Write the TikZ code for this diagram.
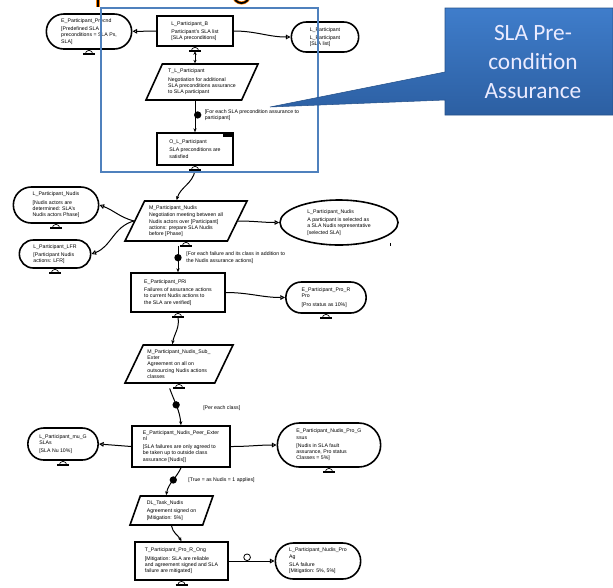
\documentclass[tikz,border=0pt]{standalone}
\usepackage{fontspec}
\setmainfont{Liberation Sans}
\newfontfamily\calloutfont{Carlito}
\usetikzlibrary{positioning,arrows.meta,shapes.geometric,shapes.misc}

\definecolor{frameblue}{HTML}{4F81BD}
\definecolor{calltop}{HTML}{3F7DCB}
\definecolor{callbot}{HTML}{2C5FA2}

\begin{document}
\begin{tikzpicture}[
    x=0.75pt, y=-0.75pt,
    font=\fontsize{3.9}{4.7}\selectfont,
    sz/.style 2 args={minimum width=#1*0.75pt, minimum height=#2*0.75pt},
    base/.style={draw, line width=1.2pt, fill=white, align=left, inner sep=1pt},
    actbox/.style={base, rectangle},
    endbox/.style={base, rounded rectangle},
    taskbox/.style={base, trapezium, trapezium left angle=60,
                    trapezium right angle=120, trapezium stretches body},
    goalbox/.style={base, ellipse, inner sep=0pt},
    link/.style={line width=0.75pt, -{Triangle[open, length=3.5pt, width=3.5pt]}},
    flow/.style={line width=0.75pt, -{Stealth[length=3pt, width=2.5pt]}},
    gate/.style={circle, fill=black, inner sep=0pt, minimum size=5.5pt},
    ring/.style={circle, draw, line width=0.6pt, fill=white, inner sep=0pt, minimum size=5pt},
    cond/.style={align=left, inner sep=0pt},
    pics/dock/.style={code={
        \draw[line width=0.5pt, fill=white] (-2.8pt,-3.2pt) arc[start angle=180, end angle=0, radius=2.8pt] -- cycle;
        \draw[line width=0.9pt] (-4.5pt,-3.2pt) -- (4.5pt,-3.2pt);
    }}
]
\useasboundingbox (0,0) rectangle (613,587);

% title strokes cut off at the top edge
\draw[orange, line width=2.6pt] (98,-4) -- (98,7);
\draw[line width=1.6pt] (98,-4) -- (98,7);
\draw[orange, line width=2.4pt] (241.5,-5) ellipse [x radius=6pt, y radius=6pt];
\draw[line width=1.4pt] (241.5,-5) ellipse [x radius=6pt, y radius=6pt];

% precondition block
\node[endbox, sz={88}{35}] (precnd) at (89,31.5)
    {E\_Participant\_Precnd\\[1.5pt] {[}Predefined SLA\\ preconditions = SLA Ps,\\ SLA{]}};
\node[actbox, sz={76}{30}] (partB) at (195,31)
    {L\_Participant\_B\\[1.5pt] Participant's SLA list\\ {[}SLA preconditions{]}};
\node[endbox, sz={70}{30}] (partL) at (325,37)
    {L\_Participant\\[1.5pt] L\_Participant\\ {[}SLA list{]}};
\node[taskbox, sz={112}{36}] (negot) at (202,82)
    {T\_L\_Participant\\[1.5pt] Negotiation for additional\\ SLA preconditions assurance\\ to SLA participant};
\node[actbox, sz={76}{32}] (satisf) at (195,149)
    {O\_L\_Participant\\[1.5pt] SLA preconditions are\\ satisfied};

% Nudis block
\node[taskbox, sz={122}{40}] (nudis) at (186,221)
    {M\_Participant\_Nudis\\[1pt] Negotiation meeting between all\\ Nudis actors over {[}Participant{]}\\ actions: prepare SLA Nudis\\ before {[}Phase{]}};
\node[endbox, sz={88}{36}] (actors) at (56,205)
    {L\_Participant\_Nudis\\[1.5pt] {[}Nudis actors are\\ determined: SLA's\\ Nudis actors Phase{]}};
\node[endbox, sz={74}{28}] (lfr) at (55,254)
    {L\_Participant\_LFR\\[1.5pt] {[}Participant Nudis\\ actions: LFR{]}};
\node[goalbox, sz={118}{45}] (repres) at (339,222.5)
    {L\_Participant\_Nudis\\[1.5pt] A participant is selected as\\ a SLA Nudis representative\\ {[}selected SLA{]}};
\node[actbox, sz={94}{39}] (failver) at (178,292.5)
    {E\_Participant\_PRi\\[1.5pt] Failures of assurance actions\\ to current Nudis actions to\\ the SLA are verified{]}};
\node[endbox, sz={83}{31}] (prostat) at (326,297.5)
    {E\_Participant\_Pro\_R\\ Pro\\[1.5pt] {[}Pro status as 10\%{]}};

% outsourcing block
\node[taskbox, sz={108}{38}] (outsrc) at (179,364)
    {M\_Participant\_Nudis\_Sub\_\\ Exter\\ Agreement on all on\\ outsourcing Nudis actions\\ classes};
\node[actbox, sz={98}{41}] (peer) at (181,446.5)
    {E\_Participant\_Nudis\_Peer\_Exter\\ nl\\[1pt] {[}SLA failures are only agreed to\\ be taken up to outside class\\ assurance {[}Nudis{]}{]}};
\node[endbox, sz={73}{32}] (mu) at (63,444)
    {L\_Participant\_mu\_G\\ SLAs\\[1.5pt] {[}SLA Nu 10\%{]}};
\node[endbox, sz={106}{44}] (nudpro) at (329,445)
    {E\_Participant\_Nudis\_Pro\_G\\ ssus\\[1.5pt] {[}Nudis in SLA fault\\ assurance, Pro status\\ Classes = 5\%{]}};
\node[taskbox, trapezium left angle=65, trapezium right angle=115, sz={83}{29}] (signed) at (171.5,510.5)
    {DL\_Task\_Nudis\\[1.5pt] Agreement signed on\\ {[}Mitigation: 5\%{]}};
\node[actbox, sz={93}{38}] (ong) at (181.5,561)
    {T\_Participant\_Pro\_R\_Ong\\[1.5pt] {[}Mitigation: SLA are reliable\\ and agreement signed and SLA\\ failure are mitigated{]}};
\node[endbox, sz={88}{36}] (mitig) at (318,561)
    {L\_Participant\_Nudis\_Pro\\ Ag\\[1.5pt] SLA failure\\ {[}Mitigation: 5\%, 5\%{]}};

% docking marks under the nodes
\foreach \n in {precnd, partB, satisf, nudis, actors, lfr, failver, prostat, outsrc, mu, nudpro, ong}
    \pic at (\n.south) {dock};
\fill ([xshift=-8pt,yshift=-1.2pt]satisf.north east) rectangle ([xshift=-1.2pt,yshift=-3.5pt]satisf.north east);
\draw[line width=0.6pt] ([xshift=7pt,yshift=-3pt]repres.south east) -- ++(0,-2.5pt);

% links
\draw[link] (partB) -- (precnd);
\draw[link] (partB.east) to[out=0, in=180] (partL.west);
\draw[{Stealth[length=2.5pt, width=2.5pt]}-{Stealth[length=2.5pt, width=2.5pt]}, line width=0.75pt]
    ([yshift=-3.5pt]partB.south) -- (partB.south |- negot.north);
\draw[flow] (satisf.north |- negot.south) -- node[gate, pos=.45, xshift=2pt] (g1) {} (satisf.north);
\node[cond, anchor=west, right=2pt of g1] (c1) {{[}For each SLA precondition assurance to\\ participant{]}};

\draw[flow] ([yshift=-3.5pt]satisf.south) to[out=-100, in=75] ([xshift=-7pt]nudis.north);
\draw[link] (nudis.west) to[out=165, in=-20] (actors.east);
\draw[link] (nudis.west) to[out=195, in=20] (lfr.east);
\draw[link] (nudis.east) to[out=0, in=180] (repres.west);
\draw[flow] ([yshift=-3pt]failver.north |- nudis.south) -- node[gate, pos=.45] (g2) {} (failver.north);
\node[cond, anchor=west, right=3pt of g2] (c2) {{[}For each failure and its class in addition to\\ the Nudis assurance actions{]}};

\draw[link] (failver.east) to[out=0, in=180] (prostat.west);
\draw[flow] ([yshift=-3.5pt]failver.south) to[out=-80, in=80] ([xshift=-5pt]outsrc.north);
\draw[flow] ([xshift=-7pt,yshift=-3.5pt]outsrc.south) to[out=-70, in=95] node[gate, pos=.45] (g3) {} (peer.north);
\node[cond, anchor=west] (c3) at (203,408) {{[}Per each class{]}};

\draw[link] (peer.west) -- (mu.east);
\draw[link] (peer.east) to[out=0, in=180] (nudpro.west);
\draw[flow] (peer.south) to[out=-115, in=80] node[gate, pos=.45] (g4) {} ([xshift=-4pt]signed.north);
\node[cond, anchor=west, right=8pt of g4] (c4) {{[}True = as Nudis = 1 applies{]}};
\draw[flow] (signed.south) to[out=-80, in=120] (ong.north);
\draw[link] (ong.east) -- node[ring, pos=.4, above=0pt] (r1) {} (mitig.west);

% highlighted region and its callout
\draw[frameblue, line width=1.1pt] (101,8) rectangle (318,172);
\shade[top color=calltop, bottom color=callbot, draw=callbot!85!black, line width=0.4pt]
    (445,8) -- (613,8) -- (613,115) -- (445,115) -- (445,100) -- (270,107) -- (445,72) -- cycle;
\node[font=\calloutfont\fontsize{17.5}{21.5}\selectfont, text=white!92!blue, align=center] (sla) at (533,62)
    {SLA Pre-\\condition\\Assurance};
\end{tikzpicture}
\end{document}
